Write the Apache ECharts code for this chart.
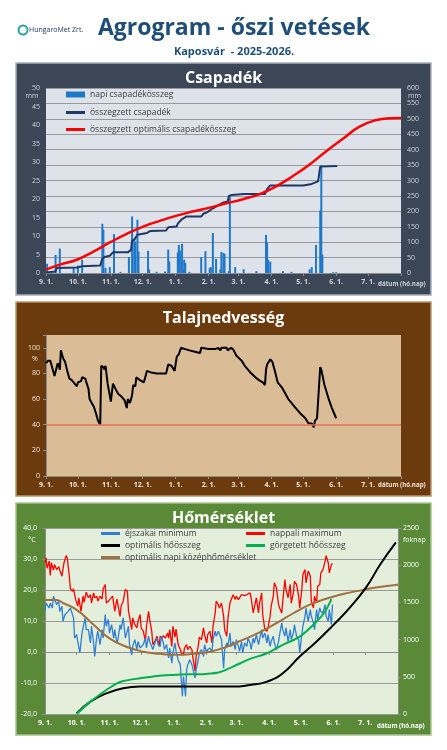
<!DOCTYPE html>
<html lang="hu">
<head>
<meta charset="utf-8">
<title>Agrogram - őszi vetések</title>
<script src="https://cdn.jsdelivr.net/npm/echarts@6/dist/echarts.min.js"></script>
<style>
  html, body { margin: 0; padding: 0; background: #fff; }
  #chart { width: 447px; height: 750px; }
</style>
</head>
<body>
<div id="chart"></div>
<script>
// Days counted from 1 Sept 2025, axis runs to 1 Aug 2026.
const MONTH_DAYS = [0, 30, 61, 91, 122, 153, 181, 212, 242, 273, 303, 334];
const MONTH_LABELS = ['9. 1.', '10. 1.', '11. 1.', '12. 1.', '1. 1.', '2. 1.', '3. 1.', '4. 1.', '5. 1.', '6. 1.', '7. 1.', ''];
const DATE_AXIS_NAME = 'dátum (hó.nap)';

// Csapadék
const RAIN_DAYS = [1, 9, 13, 26, 30, 34, 53, 54, 56, 60, 64, 70, 78, 81, 83, 84, 86, 87, 96, 97, 104, 112, 115, 116, 124, 125, 126, 128, 129, 130, 131, 135, 146, 150, 154, 155, 157, 160, 164, 165, 167, 168, 172, 173, 178, 186, 198, 207, 208, 209, 211, 223, 231, 248, 250, 254, 258, 259, 260, 270, 273];
const RAIN_MM = [2.5, 4.9, 6.6, 1.6, 2.0, 3.6, 13.3, 11.7, 1.4, 1.6, 10.5, 0.3, 4.3, 15.3, 9.0, 8.5, 14.4, 5.8, 6.0, 1.0, 0.3, 0.4, 6.3, 3.1, 5.6, 7.6, 6.1, 7.9, 1.0, 3.6, 2.7, 0.3, 4.3, 5.9, 1.3, 1.6, 10.8, 3.8, 1.0, 5.7, 5.4, 5.2, 0.5, 20.5, 1.6, 1.0, 0.5, 10.3, 8.3, 3.6, 3.1, 0.5, 0.3, 1.0, 1.6, 7.6, 16.9, 29.2, 5.0, 0.2, 0.2];
const RAIN_SUM_DAYS = [0, 1, 9, 10, 29, 34, 51, 53, 55, 60, 63, 77, 80, 81, 83, 86, 95, 98, 113, 115, 123, 124, 128, 132, 146, 148, 151, 155, 157, 167, 171, 172, 175, 186, 206, 208, 211, 242, 250, 256, 258, 274];
const RAIN_SUM_MM = [2, 4, 5, 16, 18, 22, 24, 46, 52, 56, 67, 67, 75, 105, 108, 124, 130, 136, 138, 148, 151, 160, 175, 183, 183, 192, 196, 205, 210, 229, 232, 250, 253, 256, 256, 272, 284, 284, 289, 297, 345, 347];
const RAIN_OPT_DAYS = [0, 13, 29, 45, 60, 76, 92, 107, 123, 139, 154, 170, 186, 201, 217, 233, 248, 264, 280, 295, 311, 324, 334];
const RAIN_OPT_MM = [11, 27, 43, 70, 99, 127, 151, 169, 186, 200, 212, 226, 240, 256, 282, 316, 352, 396, 437, 475, 496, 502, 503];

// Talajnedvesség
const SOIL_DAYS = [0, 2, 4, 6, 8, 9, 11, 12, 13, 14, 16, 18, 20, 22, 24, 26, 27, 29, 30, 33, 34, 37, 38, 40, 41, 45, 47, 49, 51, 52, 54, 55, 56, 58, 60, 61, 63, 66, 68, 71, 74, 76, 77, 79, 81, 82, 84, 85, 88, 92, 95, 98, 104, 113, 115, 118, 121, 123, 125, 127, 131, 135, 140, 145, 146, 153, 154, 159, 162, 164, 165, 170, 171, 174, 176, 179, 184, 187, 192, 197, 200, 204, 206, 207, 208, 211, 213, 215, 218, 222, 228, 234, 239, 244, 247, 250, 252, 253, 255, 258, 259, 262, 266, 269, 272, 273];
const SOIL_PCT = [88, 90, 90, 84, 78, 78, 88, 86, 83, 98, 92, 89, 82, 76, 75, 73, 74, 70, 73, 74, 77, 76, 73, 68, 60, 54, 49, 43, 40, 86, 85, 83, 86, 72, 63, 58, 72, 67, 64, 62, 59, 53, 60, 57, 63, 71, 70, 77, 75, 73, 82, 81, 80, 80, 87, 86, 82, 93, 95, 100, 99, 98, 97, 96, 100, 99, 100, 99, 100, 98, 100, 100, 98, 100, 99, 94, 90, 86, 81, 77, 75, 73, 71, 83, 87, 91, 89, 83, 73, 69, 60, 54, 49, 45, 41, 41, 38, 43, 45, 85, 83, 71, 60, 53, 47, 45];
const SOIL_LIMIT = 40;

// Hőmérséklet
const TMAX_DAYS = [0, 1, 2, 4, 5, 6, 8, 9, 11, 13, 14, 16, 18, 20, 21, 23, 24, 26, 27, 29, 31, 32, 34, 36, 37, 39, 41, 43, 44, 46, 47, 49, 50, 52, 54, 55, 57, 58, 60, 61, 64, 66, 68, 71, 72, 74, 76, 78, 79, 80, 82, 83, 85, 87, 88, 90, 91, 93, 95, 96, 98, 99, 101, 102, 104, 106, 108, 109, 111, 112, 114, 116, 117, 118, 120, 121, 123, 124, 126, 128, 129, 131, 132, 134, 135, 137, 139, 140, 142, 143, 145, 146, 148, 150, 151, 153, 154, 156, 158, 159, 161, 162, 164, 165, 167, 169, 170, 172, 173, 175, 176, 178, 180, 181, 183, 184, 186, 187, 189, 191, 192, 194, 195, 197, 198, 200, 202, 203, 205, 206, 208, 210, 211, 213, 214, 216, 217, 219, 221, 222, 224, 225, 227, 228, 230, 232, 233, 235, 236, 238, 240, 241, 243, 244, 246, 247, 249, 251, 252, 254, 255, 257, 258, 260, 261, 263, 265, 266, 268, 269, 271, 272];
const TMAX_C = [28.8, 30.4, 27.0, 29.3, 24.7, 28.8, 26.4, 28.2, 26.6, 27.5, 26.4, 24.5, 28.8, 31.1, 30.4, 24.5, 20.4, 19.6, 20.4, 16.9, 14.8, 17.5, 13.1, 18.0, 16.0, 19.3, 17.5, 18.5, 15.8, 19.1, 17.5, 18.0, 16.4, 18.0, 17.1, 20.4, 21.8, 15.8, 16.4, 15.8, 18.0, 13.1, 17.1, 11.5, 14.8, 16.4, 20.2, 19.6, 13.1, 11.5, 7.2, 11.0, 8.8, 7.8, 9.9, 12.1, 7.8, 6.7, 3.4, 8.3, 13.1, 10.5, 6.7, 2.4, 3.4, 5.1, 1.8, 5.1, 4.5, 5.3, 4.5, 6.1, 4.5, 7.2, 1.8, 8.3, 4.8, 7.4, 2.4, 0.8, -0.3, -0.9, 1.3, 2.4, 0.8, 1.8, 0.8, -1.9, -6.2, -1.4, 1.8, 4.8, 4.0, 7.8, 5.6, 2.9, 5.6, 6.7, 2.9, 8.3, 12.6, 16.4, 15.3, 14.2, 15.8, 11.5, 7.2, 5.1, 10.5, 15.8, 15.3, 18.5, 16.9, 18.0, 16.9, 17.5, 18.5, 18.0, 18.2, 18.5, 18.9, 19.1, 17.5, 12.6, 14.2, 17.5, 12.6, 15.8, 19.1, 12.1, 7.2, 6.7, 7.8, 11.5, 14.8, 18.0, 22.3, 20.7, 15.3, 14.2, 12.6, 16.4, 23.4, 20.2, 17.5, 21.8, 15.8, 19.1, 22.8, 21.8, 18.0, 14.2, 20.2, 25.0, 26.6, 22.3, 26.1, 24.5, 16.4, 14.2, 18.0, 15.8, 21.2, 21.8, 25.5, 26.6, 29.3, 31.1, 28.8, 25.5, 28.2, 28.6];
const TMIN_DAYS = [0, 1, 2, 4, 5, 7, 8, 9, 11, 13, 14, 16, 17, 19, 20, 22, 24, 25, 27, 28, 30, 31, 33, 35, 36, 38, 39, 41, 43, 44, 46, 47, 49, 50, 52, 54, 55, 57, 58, 60, 61, 63, 65, 66, 68, 69, 71, 72, 74, 76, 77, 79, 80, 82, 83, 85, 87, 88, 90, 91, 93, 95, 96, 98, 99, 101, 102, 104, 106, 107, 109, 110, 112, 113, 115, 117, 118, 120, 121, 123, 124, 126, 128, 129, 130, 131, 133, 134, 135, 137, 139, 140, 142, 143, 145, 146, 148, 150, 151, 153, 154, 156, 158, 159, 161, 162, 164, 165, 167, 169, 170, 172, 173, 175, 176, 178, 180, 181, 183, 184, 186, 187, 189, 191, 192, 194, 195, 197, 198, 200, 202, 203, 205, 206, 208, 210, 211, 213, 214, 216, 217, 219, 221, 222, 224, 225, 227, 228, 230, 232, 233, 235, 236, 238, 240, 241, 243, 244, 246, 247, 249, 251, 252, 254, 255, 257, 258, 260, 261, 263, 265, 266, 268, 269, 271, 272];
const TMIN_C = [13.1, 15.8, 15.3, 14.2, 15.8, 14.2, 18.0, 18.5, 15.3, 16.4, 13.1, 14.8, 9.9, 12.1, 11.5, 13.1, 14.2, 13.7, 11.0, 4.5, 5.6, 3.4, -0.3, 6.1, 7.8, 11.0, 7.2, 7.2, 2.9, 8.3, 2.9, -1.4, 5.1, 6.7, 2.4, 7.2, 4.5, 12.1, 8.3, 10.5, 6.1, 8.8, 4.5, 7.2, 2.9, 4.0, 8.8, 7.2, 11.0, 4.5, 5.1, 8.3, 2.4, -0.9, 1.8, 4.0, 0.8, 3.4, 1.3, 0.8, 2.4, 4.5, 1.3, 5.1, 3.4, 1.8, 0.8, 2.9, 4.5, 2.4, 1.8, 5.1, 2.9, 0.8, 2.4, -1.9, 1.3, -3.6, -0.3, 2.9, 0.2, -2.5, -4.1, -4.1, -14.3, -7.9, -14.3, -5.7, -4.1, -2.5, -4.1, -4.6, -8.4, -5.7, -2.5, -0.3, 0.8, -1.4, 2.4, -0.3, 0.8, 1.3, 0.2, 4.0, 6.7, 5.1, 6.7, 7.2, 4.0, -5.2, 0.8, 2.9, 1.8, 6.1, 1.8, 3.4, 0.8, 4.0, 1.8, 0.2, 3.4, -0.3, 2.9, 1.8, 4.5, 2.9, 0.8, 4.5, 2.9, 5.6, 2.4, 4.0, 7.2, 4.5, 6.1, 2.9, 5.6, 1.8, 3.4, 5.1, 2.9, 0.8, 3.4, 5.6, 9.4, 7.2, 5.1, 7.8, 3.4, 7.2, 4.0, 6.1, 8.8, 5.1, 4.0, -0.3, 5.6, 8.3, 11.5, 14.2, 9.9, 13.7, 11.5, 9.4, 7.2, 13.7, 10.5, 14.2, 13.1, 12.6, 15.3, 11.5, 9.9, 13.7, 8.8, 15.3];
const TOPT_DAYS = [0, 11, 17, 30, 46, 61, 77, 93, 109, 124, 140, 156, 172, 187, 203, 219, 235, 250, 266, 282, 298, 313, 334];
const TOPT_C = [16.8, 16.8, 15.8, 13.6, 8.8, 4.4, 1.7, 0.1, -0.6, -0.9, -0.6, 0.1, 1.7, 3.9, 6.3, 9.3, 12.5, 15.2, 17.2, 18.7, 19.8, 20.8, 21.7];
const HEAT_OPT_DAYS = [30, 43, 58, 74, 90, 178, 194, 210, 225, 241, 257, 273, 288, 304, 317, 332];
const HEAT_OPT_SUM = [9, 166, 278, 346, 368, 368, 390, 435, 548, 772, 974, 1198, 1423, 1705, 2006, 2307];
const HEAT_DAYS = [30, 43, 58, 68, 74, 90, 106, 121, 137, 153, 165, 178, 194, 210, 225, 241, 257, 265, 271];
const HEAT_SUM = [0, 166, 323, 413, 444, 480, 512, 525, 534, 539, 560, 637, 740, 817, 930, 1040, 1243, 1378, 1544];

const pairs = (xs, ys) => xs.map((x, i) => [x, ys[i]]);
const FONT = 'Open Sans';

const monthAxis = (gridIndex, color) => ({
    type: 'value',
    gridIndex: gridIndex,
    min: 0,
    max: 334,
    axisLine: {show: true, lineStyle: {color: '#8c8c8c'}},
    axisTick: {show: true, customValues: MONTH_DAYS, length: 3, lineStyle: {color: '#8c8c8c'}},
    axisLabel: {
        customValues: MONTH_DAYS.slice(0, -1),
        formatter: (v) => MONTH_LABELS[MONTH_DAYS.indexOf(v)],
        color: color, fontSize: 7, fontWeight: 'bold', fontFamily: FONT, margin: 5,
    },
    splitLine: {show: false},
});

const valueAxis = (gridIndex, position, min, max, interval, color, extra) => Object.assign({
    type: 'value',
    gridIndex: gridIndex,
    position: position,
    min: min,
    max: max,
    interval: interval,
    axisLine: {show: false},
    axisTick: {show: false},
    axisLabel: {color: color, fontSize: 7, fontFamily: FONT, margin: 6, formatter: (v) => String(v)},
    splitLine: {show: false},
}, extra);

const gridLine = {show: true, lineStyle: {color: '#9a9a9a', width: 1.2}};

const smallText = (x, y, text, color, align, weight, size) => ({
    type: 'text', x: x, y: y,
    style: {
        text: text, fill: color, font: (weight || 'normal') + ' ' + (size || 7) + 'px "' + FONT + '"',
        textAlign: align || 'center', textVerticalAlign: 'middle',
    },
});

const panelRect = (y, height, fill, stroke) => ({
    type: 'rect', z: -10,
    shape: {x: 16, y: y, width: 415, height: height},
    style: {fill: fill, stroke: stroke, lineWidth: 1.5},
});

const panelTitle = (text, top) => ({
    text: text, left: 'center', top: top, padding: 0,
    textStyle: {color: '#fff', fontSize: 16, fontWeight: 'bold', fontFamily: FONT},
});

const lineLegend = (names, left, top, gap) => ({
    data: names,
    orient: 'vertical', left: left, top: top,
    icon: 'rect', itemWidth: 19, itemHeight: 3, itemGap: gap, padding: 0,
    selectedMode: false,
    textStyle: {color: '#404040', fontSize: 8.5, fontFamily: FONT},
});

const chart = echarts.init(document.getElementById('chart'), null, {renderer: 'canvas'});

chart.setOption({
    animation: false,
    textStyle: {fontFamily: FONT},
    title: [
        panelTitle('Csapadék', 70),
        panelTitle('Talajnedvesség', 310),
        panelTitle('Hőmérséklet', 510),
    ],
    graphic: [
        panelRect(63, 232, '#3b4656', '#a9b0b9'),
        panelRect(302, 194, '#6c3b0d', '#b79670'),
        panelRect(503, 232, '#5a8a38', '#a8c48e'),
        // Header
        {type: 'circle', shape: {cx: 23, cy: 30, r: 4.5}, style: {fill: 'none', stroke: '#2aa39a', lineWidth: 2}},
        {type: 'text', x: 29, y: 30, style: {text: 'HungaroMet Zrt.', fill: '#1f3864', font: '7px "' + FONT + '"', textVerticalAlign: 'middle'}},
        {type: 'text', x: 234, y: 28, style: {text: 'Agrogram - őszi vetések', fill: '#1f4e79', font: 'bold 23px "' + FONT + '"', textAlign: 'center', textVerticalAlign: 'middle'}},
        {type: 'text', x: 234, y: 52, style: {text: 'Kaposvár  - 2025-2026.', fill: '#1f4e79', font: 'bold 11px "' + FONT + '"', textAlign: 'center', textVerticalAlign: 'middle'}},
        // Units and date captions
        smallText(32, 96, 'mm', '#d0d4da'),
        smallText(408, 96, 'mm', '#d0d4da', 'left'),
        smallText(35, 359, '%', '#f0e6da'),
        smallText(32, 540, '°C', '#ffffff'),
        smallText(403, 540, 'foknap', '#ffffff', 'left'),
        smallText(378, 284, DATE_AXIS_NAME, '#d0d4da', 'left', 'bold', 6.2),
        smallText(378, 485, DATE_AXIS_NAME, '#f0e6da', 'left', 'bold', 6.2),
        smallText(377, 726, DATE_AXIS_NAME, '#ffffff', 'left', 'bold', 6.2),
    ],
    grid: [
        {left: 46, top: 88, width: 355, height: 185, show: true, backgroundColor: '#dee3eb', borderWidth: 0},
        {left: 46, top: 335, width: 355, height: 141, show: true, backgroundColor: '#dabd96', borderWidth: 0},
        {left: 45, top: 528, width: 353, height: 186, show: true, backgroundColor: '#e3eedb', borderWidth: 0},
    ],
    xAxis: [
        monthAxis(0, '#d0d4da'),
        monthAxis(1, '#f0e6da'),
        monthAxis(2, '#ffffff'),
    ],
    yAxis: [
        valueAxis(0, 'left', 0, 50, 5, '#d0d4da'),
        valueAxis(0, 'right', 0, 600, 50, '#d0d4da', {splitLine: gridLine}),
        valueAxis(1, 'left', 0, 110, 20, '#f0e6da', {
            axisLine: {show: true, lineStyle: {color: '#8c8c8c'}},
            axisTick: {show: true, length: 3, lineStyle: {color: '#8c8c8c'}},
            axisLabel: {color: '#f0e6da', fontSize: 7, fontFamily: FONT, margin: 6, formatter: (v) => v > 100 ? '' : String(v)},
        }),
        valueAxis(2, 'left', -20, 40, 10, '#ffffff', {
            axisLine: {show: true, lineStyle: {color: '#8c8c8c'}},
            axisTick: {show: true, length: 3, lineStyle: {color: '#8c8c8c'}},
            axisLabel: {color: '#ffffff', fontSize: 7, fontFamily: FONT, margin: 8, formatter: (v) => v.toFixed(1).replace('.', ',')},
            splitLine: gridLine,
        }),
        valueAxis(2, 'right', 0, 2500, 500, '#ffffff', {
            axisLine: {show: true, lineStyle: {color: '#8c8c8c'}},
            axisTick: {show: true, length: 3, lineStyle: {color: '#8c8c8c'}},
            axisLabel: {color: '#ffffff', fontSize: 7, fontFamily: FONT, margin: 5, formatter: (v) => String(v)},
        }),
    ],
    legend: [
        {
            data: ['napi csapadékösszeg'],
            left: 66, top: 90, icon: 'rect', itemWidth: 19, itemHeight: 6, padding: 0,
            selectedMode: false,
            textStyle: {color: '#404040', fontSize: 8.5, fontFamily: FONT},
        },
        lineLegend(['összegzett csapadék', 'összegzett optimális csapadékösszeg'], 66, 108, 8),
        lineLegend(['éjszakai minimum', 'optimális hőösszeg', 'optimális napi középhőmérséklet'], 101, 529, 3),
        lineLegend(['nappali maximum', 'görgetett hőösszeg'], 246, 529, 3),
    ],
    series: [
        {
            name: 'napi csapadékösszeg', type: 'bar', xAxisIndex: 0, yAxisIndex: 0,
            barWidth: 2, itemStyle: {color: '#1f78c8'},
            data: pairs(RAIN_DAYS, RAIN_MM),
        },
        {
            name: 'összegzett csapadék', type: 'line', xAxisIndex: 0, yAxisIndex: 1,
            symbol: 'none', lineStyle: {color: '#1f3864', width: 2}, itemStyle: {color: '#1f3864'},
            data: pairs(RAIN_SUM_DAYS, RAIN_SUM_MM),
        },
        {
            name: 'összegzett optimális csapadékösszeg', type: 'line', xAxisIndex: 0, yAxisIndex: 1,
            symbol: 'none', smooth: true, lineStyle: {color: '#ff0000', width: 2.5}, itemStyle: {color: '#ff0000'},
            data: pairs(RAIN_OPT_DAYS, RAIN_OPT_MM),
        },
        {
            name: 'talajnedvesség', type: 'line', xAxisIndex: 1, yAxisIndex: 2,
            symbol: 'none', lineStyle: {color: '#000000', width: 2}, itemStyle: {color: '#000'},
            data: pairs(SOIL_DAYS, SOIL_PCT),
            markLine: {
                silent: true, symbol: 'none', label: {show: false},
                lineStyle: {color: '#e8705a', type: 'solid', width: 1.5},
                data: [{yAxis: SOIL_LIMIT}],
            },
        },
        {
            name: 'nappali maximum', type: 'line', xAxisIndex: 2, yAxisIndex: 3,
            symbol: 'none', lineStyle: {color: '#ff0000', width: 1.3}, itemStyle: {color: '#ff0000'},
            data: pairs(TMAX_DAYS, TMAX_C),
        },
        {
            name: 'éjszakai minimum', type: 'line', xAxisIndex: 2, yAxisIndex: 3,
            symbol: 'none', lineStyle: {color: '#2f80d4', width: 1.3}, itemStyle: {color: '#2f80d4'},
            data: pairs(TMIN_DAYS, TMIN_C),
        },
        {
            name: 'optimális napi középhőmérséklet', type: 'line', xAxisIndex: 2, yAxisIndex: 3,
            symbol: 'none', smooth: true, lineStyle: {color: '#a0703f', width: 2}, itemStyle: {color: '#a0703f'},
            data: pairs(TOPT_DAYS, TOPT_C),
        },
        {
            name: 'optimális hőösszeg', type: 'line', xAxisIndex: 2, yAxisIndex: 4,
            symbol: 'none', smooth: true, lineStyle: {color: '#000000', width: 2}, itemStyle: {color: '#000'},
            data: pairs(HEAT_OPT_DAYS, HEAT_OPT_SUM),
        },
        {
            name: 'görgetett hőösszeg', type: 'line', xAxisIndex: 2, yAxisIndex: 4,
            symbol: 'none', smooth: 0.3, lineStyle: {color: '#00b050', width: 2}, itemStyle: {color: '#00b050'},
            data: pairs(HEAT_DAYS, HEAT_SUM),
        },
    ],
});
</script>
</body>
</html>
